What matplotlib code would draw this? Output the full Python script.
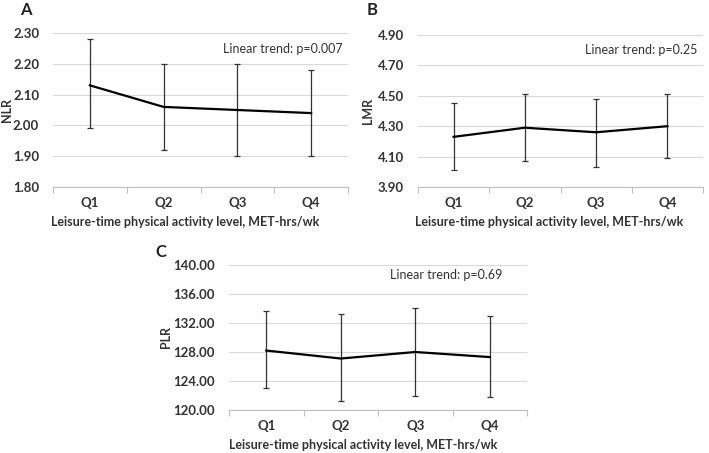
import matplotlib.pyplot as plt

plt.rcParams['font.family'] = ['Lato', 'DejaVu Sans']

# Data
quartiles = ["Q1", "Q2", "Q3", "Q4"]

nlr_mean = [2.13, 2.06, 2.05, 2.04]
nlr_low = [1.99, 1.92, 1.90, 1.90]
nlr_high = [2.28, 2.20, 2.20, 2.18]

lmr_mean = [4.23, 4.29, 4.26, 4.30]
lmr_low = [4.01, 4.07, 4.03, 4.09]
lmr_high = [4.45, 4.51, 4.48, 4.51]

plr_mean = [128.2, 127.1, 128.0, 127.3]
plr_low = [123.0, 121.2, 122.0, 121.8]
plr_high = [133.6, 133.2, 134.1, 132.9]

W, H = 709, 453
fig = plt.figure(figsize=(W / 100, H / 100), dpi=100)


def px_axes(left, top, right, bottom):
    return fig.add_axes([left / W, (H - bottom) / H, (right - left) / W, (bottom - top) / H])


def panel(ax, mean, low, high, yticks, ylabel, ylab_x, xlab_xy, trend, trend_xy, letter, letter_xy):
    x = list(range(len(quartiles)))
    yerr = [[m - l for m, l in zip(mean, low)], [h - m for m, h in zip(mean, high)]]
    ax.errorbar(x, mean, yerr=yerr, color='black', lw=1.6, ecolor='#333333',
                elinewidth=0.9, capsize=2.5, capthick=0.9, zorder=3)
    ax.set_xlim(-0.5, len(quartiles) - 0.5)
    ax.set_ylim(yticks[0], yticks[-1])
    ax.set_yticks(yticks)
    ax.set_yticklabels(["{:.2f}".format(v) for v in yticks], fontsize=9.5, fontweight='bold', color='#333333')
    ax.set_xticks([i - 0.5 for i in range(len(quartiles) + 1)])
    ax.set_xticklabels([])
    ax.set_xticks(x, minor=True)
    ax.set_xticklabels(quartiles, minor=True, fontsize=9.5, fontweight='bold', color='#333333')
    ax.tick_params(axis='x', which='major', length=4, color='#bfbfbf', width=0.8)
    ax.tick_params(axis='x', which='minor', length=0, pad=7)
    ax.tick_params(axis='y', length=0, pad=10)
    ax.grid(axis='y', color='#d9d9d9', lw=0.8, zorder=0)
    for s in ['top', 'right', 'left']:
        ax.spines[s].set_visible(False)
    ax.spines['bottom'].set_color('#bfbfbf')
    ax.set_xlabel("Leisure-time physical activity level, MET-hrs/wk", fontsize=9,
                  fontweight='bold', color='#333333')
    ax.xaxis.set_label_coords(*xlab_xy)
    ax.set_ylabel(ylabel, fontsize=9, fontweight='bold', color='#333333', va='center')
    ax.yaxis.set_label_coords(ylab_x, 0.5)
    ax.text(trend_xy[0], trend_xy[1], trend, transform=ax.transAxes, ha='right', va='center',
            fontsize=9, color='#333333')
    fig.text(letter_xy[0] / W, 1 - letter_xy[1] / H, letter, fontsize=12, fontweight='bold',
             ha='left', va='center', color='#222222')


axA = px_axes(53, 33, 348, 187)
panel(axA, nlr_mean, nlr_low, nlr_high, [1.80, 1.90, 2.00, 2.10, 2.20, 2.30], "NLR", -0.156,
      (0.447, -0.19), "Linear trend: p=0.007", (0.983, 0.896), "A", (20, 10))

axB = px_axes(418, 35, 703, 187)
panel(axB, lmr_mean, lmr_low, lmr_high, [3.90, 4.10, 4.30, 4.50, 4.70, 4.90], "LMR", -0.175,
      (0.46, -0.19), "Linear trend: p=0.25", (0.982, 0.90), "B", (367, 10))

axC = px_axes(229, 265, 527, 410)
panel(axC, plr_mean, plr_low, plr_high, [120, 124, 128, 132, 136, 140], "PLR", -0.211,
      (0.45, -0.2), "Linear trend: p=0.69", (0.916, 0.93), "C", (155, 252))

fig.savefig("out.png", dpi=100)
